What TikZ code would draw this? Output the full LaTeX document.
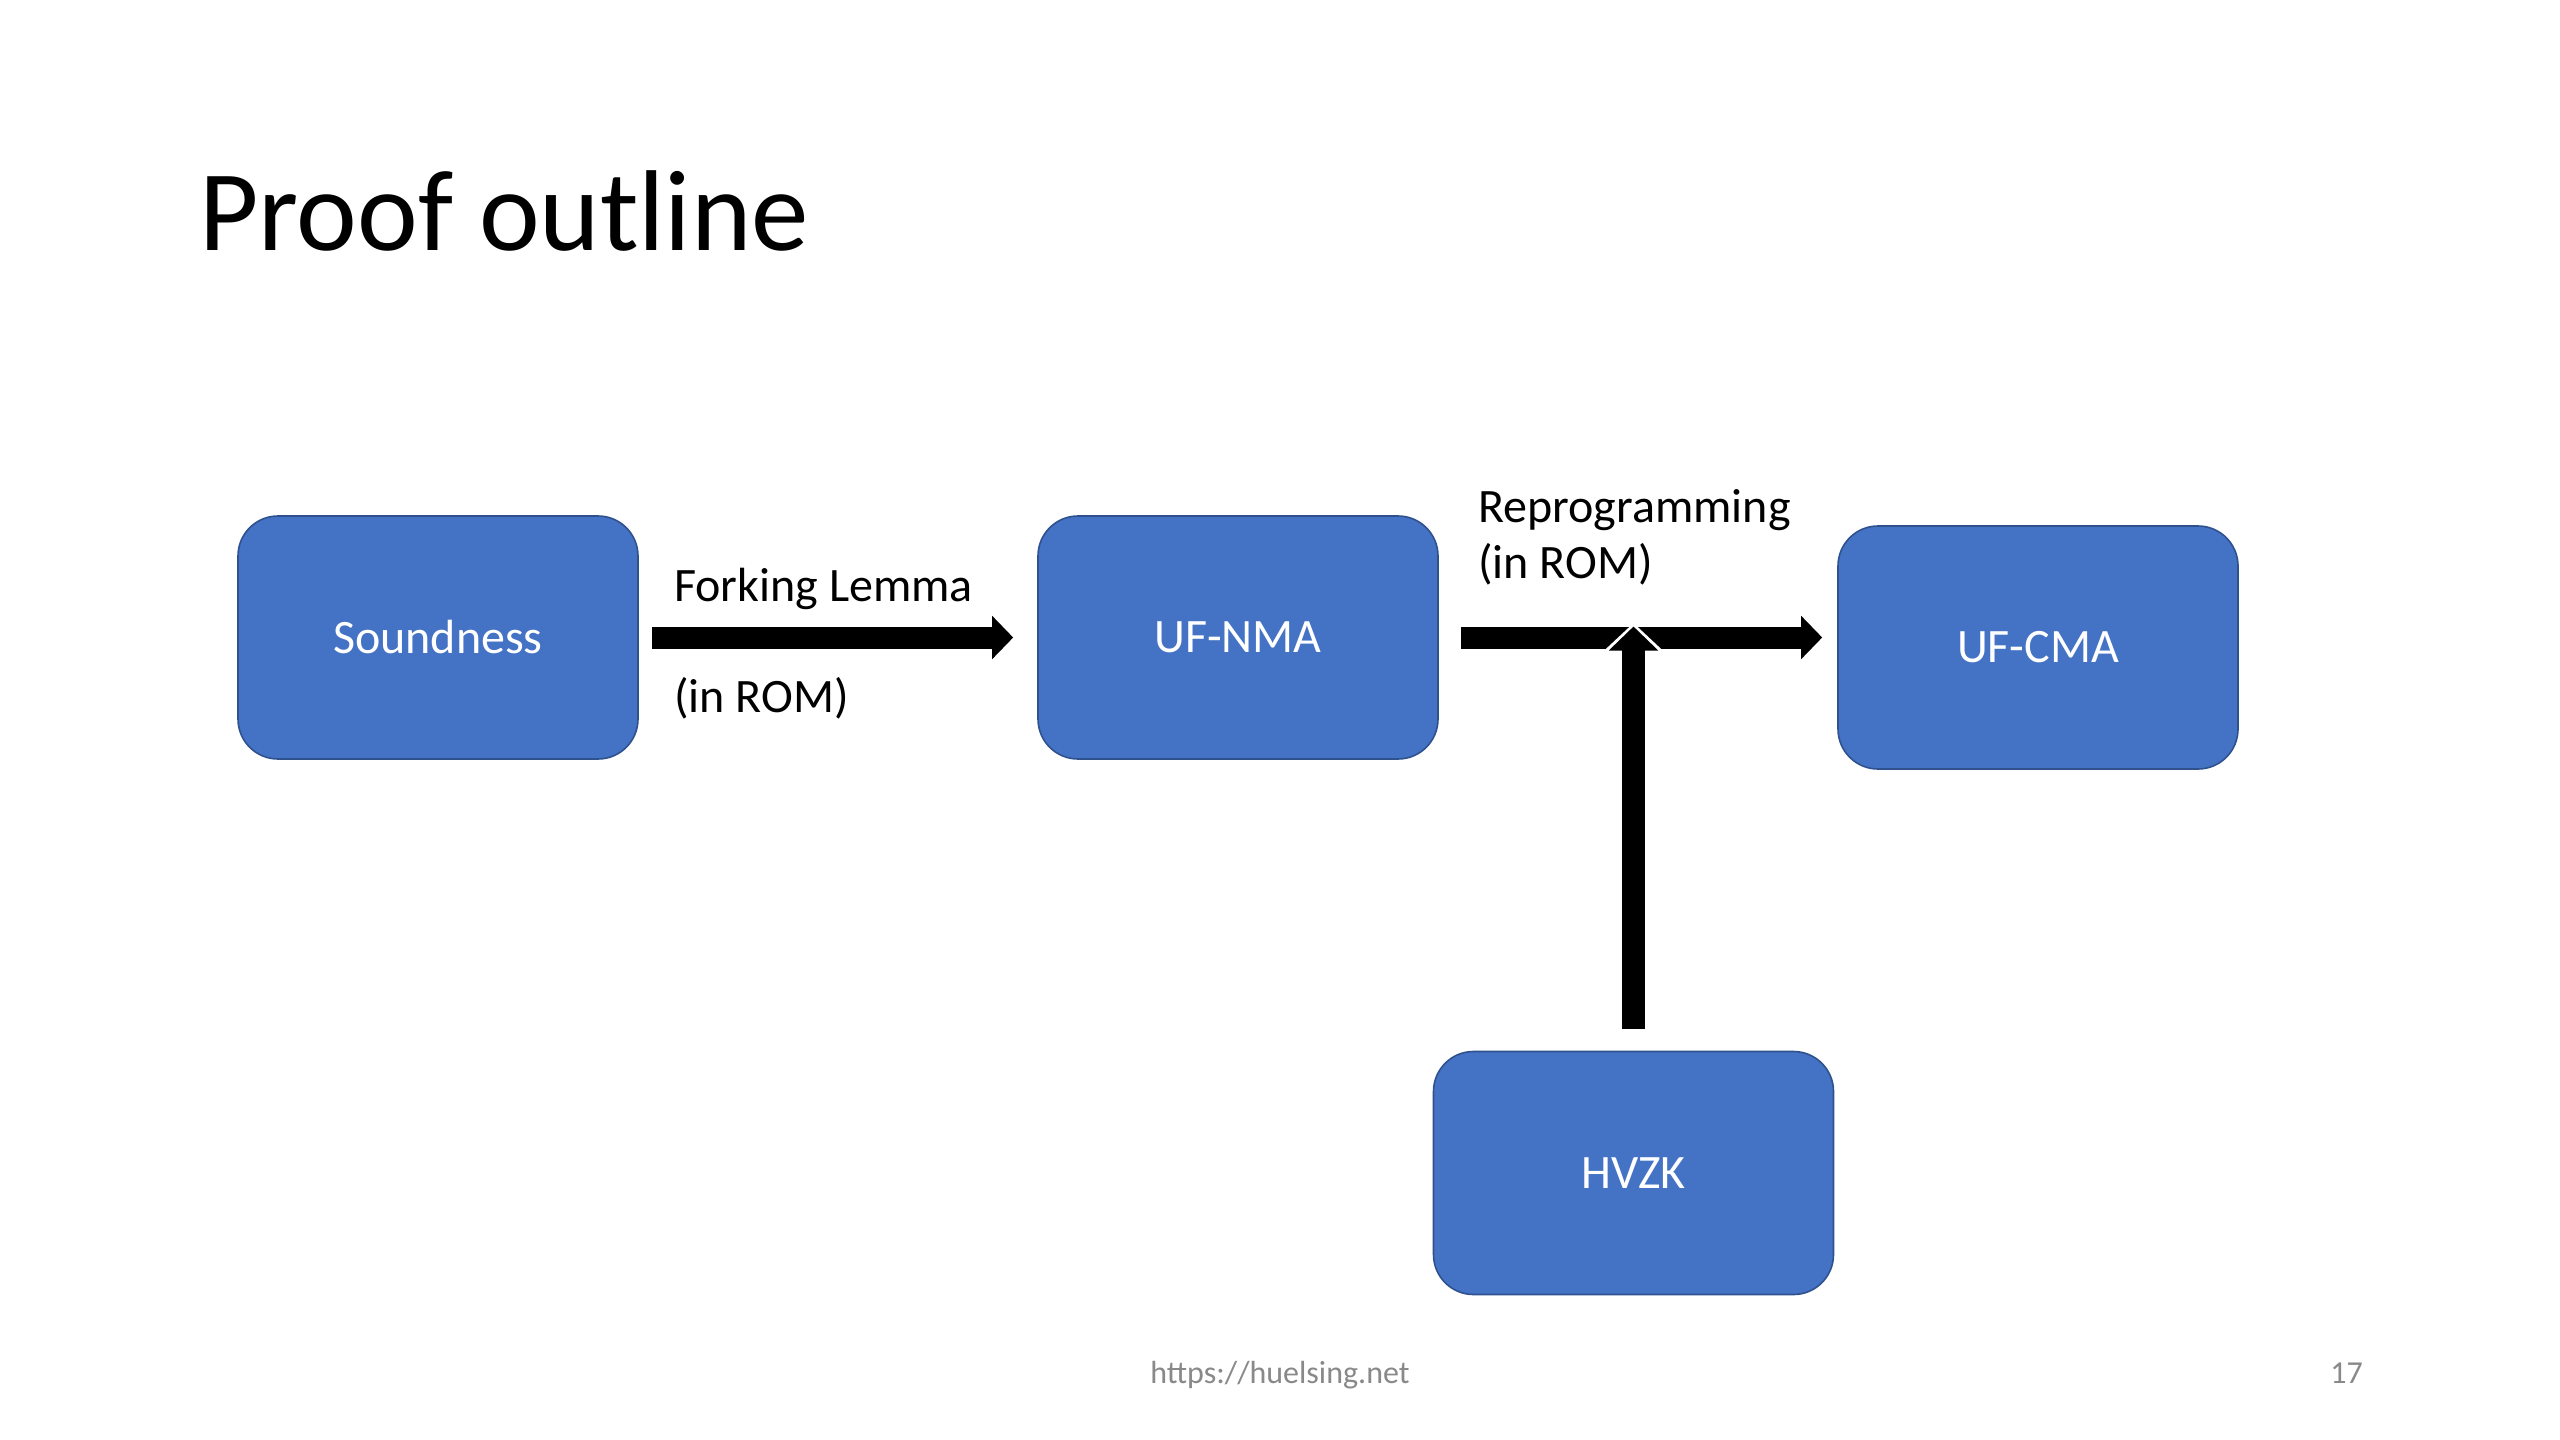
\documentclass[tikz,border=0pt]{standalone}
\usepackage{fontspec}
\setmainfont{Carlito}
\usetikzlibrary{arrows.meta,calc}
\definecolor{boxblue}{HTML}{4472C4}
\definecolor{boxedge}{HTML}{2F528F}
\definecolor{footgray}{HTML}{898989}
\begin{document}
\begin{tikzpicture}[x=1pt,y=-1pt,
  blockbox/.style={draw=boxedge, line width=1.6pt, fill=boxblue, rounded corners=40pt,
    minimum width=400pt, minimum height=243pt, inner sep=0pt, text=white,
    font=\fontsize{48}{58}\selectfont},
  lbl/.style={anchor=base west, inner sep=0pt, font=\fontsize{48}{56}\selectfont},
  foot/.style={inner sep=0pt, text=footgray, font=\fontsize{32}{38}\selectfont},
  bigarrow/.style={line width=22pt, -{Triangle[length=21pt,width=42pt]}}]
\useasboundingbox (0,0) rectangle (2560,1440);
\fill[white] (0,0) rectangle (2560,1440);
\node[anchor=base west, inner sep=0pt, font=\fontsize{115}{140}\selectfont] (title) at (199,250) {Proof outline};

\node[blockbox] (snd) at (438,637.5) {Soundness};
\node[blockbox] (nma) at (1238,637.5) {UF-NMA};
\node[blockbox] (cma) at (2038,647.5) {UF-CMA};
\node[blockbox] (hvzk) at (1633.5,1173) {HVZK};

\node[lbl] (fork) at (674,601) {Forking Lemma};
\node[lbl] (rom1) at (674,712) {(in ROM)};
\node[lbl] (repro) at (1478,522) {Reprogramming};
\node[lbl] (rom2) at (1478,578) {(in ROM)};

\draw[bigarrow] ($(snd.east)+(13,0)$) -- ($(nma.west)+(-24,0)$);
\draw[bigarrow] ($(nma.east)+(22,0)$) -- ($(cma.west |- nma.east)+(-15,0)$);
\coordinate (vstart) at ($(hvzk.north)+(0,-22)$);
\coordinate (vtip) at ($(hvzk.north |- nma.east)+(0,-11)$);
\draw[white, line width=23pt, -{Triangle[length=28pt,width=58pt]}]
  (vstart) -- ($(vtip)+(0,-3.5)$);
\draw[black, line width=23pt, -{Triangle[length=24pt,width=48pt]}]
  (vstart) -- (vtip);

\node[foot, anchor=base] (url) at (1280,1383) {https://huelsing.net};
\node[foot, anchor=base east] (page) at (2363,1383) {17};
\end{tikzpicture}
\end{document}
